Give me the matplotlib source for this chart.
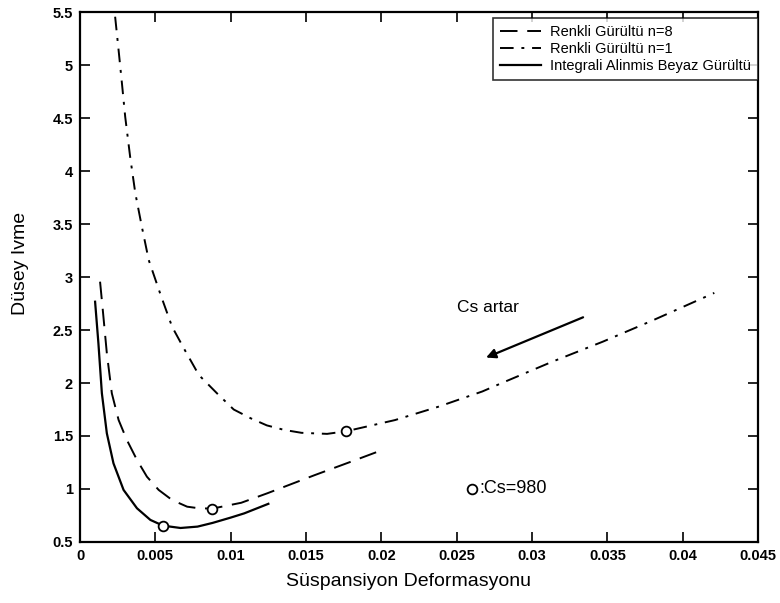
import numpy as np
import matplotlib
matplotlib.use("Agg")
from matplotlib import pyplot as plt

plt.rcParams['font.family'] = ['Liberation Sans', 'DejaVu Sans']

# Integrali alinmis beyaz gurultu (duz cizgi)
x_beyaz = [0.00100, 0.00122, 0.00145, 0.00178, 0.00222, 0.00289, 0.00378, 0.00467,
           0.00551, 0.00667, 0.00780, 0.00880, 0.01000, 0.01090, 0.01250]
y_beyaz = [2.767, 2.375, 1.903, 1.525, 1.242, 0.991, 0.818, 0.708,
           0.654, 0.632, 0.645, 0.680, 0.730, 0.770, 0.860]

# Renkli gurultu n=8 (kesikli)
x_n8 = [0.00133, 0.00151, 0.00178, 0.00211, 0.00256, 0.00311, 0.00378, 0.00444,
        0.00522, 0.00611, 0.00711, 0.00789, 0.00878, 0.01070, 0.01244, 0.01556,
        0.01822, 0.02010]
y_n8 = [2.956, 2.690, 2.280, 1.903, 1.651, 1.462, 1.274, 1.116,
        0.991, 0.896, 0.833, 0.818, 0.815, 0.870, 0.960, 1.130,
        1.270, 1.370]

# Renkli gurultu n=1 (kesik-noktali)
x_n1 = [0.00233, 0.00256, 0.00278, 0.00300, 0.00333, 0.00367, 0.00411, 0.00456,
        0.00533, 0.00611, 0.00689, 0.00789, 0.00911, 0.01020, 0.01133, 0.01240,
        0.01356, 0.01470, 0.01640, 0.01767, 0.02090, 0.02378, 0.02670, 0.02800,
        0.03133, 0.03470, 0.03800, 0.04210]
y_n1 = [5.456, 5.140, 4.830, 4.510, 4.130, 3.790, 3.470, 3.160,
        2.840, 2.531, 2.327, 2.075, 1.900, 1.750, 1.667, 1.600,
        1.557, 1.530, 1.520, 1.545, 1.650, 1.776, 1.920, 2.000,
        2.200, 2.390, 2.590, 2.850]

# Cs=980 noktalari
x_cs = [0.00551, 0.00878, 0.01767]
y_cs = [0.654, 0.815, 1.545]

fig = plt.figure(figsize=(7.8, 6.03), dpi=100)
ax = fig.add_axes([0.1026, 0.1012, 0.8692, 0.8788])

ax.plot(x_n8, y_n8, color='black', linestyle=(0, (9, 5)), linewidth=1.4, label='Renkli Gürültü n=8')
ax.plot(x_n1, y_n1, color='black', linestyle=(0, (7, 4, 1.5, 4)), linewidth=1.4, label='Renkli Gürültü n=1')
ax.plot(x_beyaz, y_beyaz, color='black', linestyle='-', linewidth=1.6, label='Integrali Alinmis Beyaz Gürültü')
ax.plot(x_cs, y_cs, linestyle='none', marker='o', markersize=7, markerfacecolor='white',
        markeredgecolor='black', markeredgewidth=1.3)

ax.annotate('', xy=(0.02678, 2.23), xytext=(0.03356, 2.63),
            arrowprops=dict(arrowstyle='-|>', color='black', lw=1.6, mutation_scale=14))
ax.text(0.0250, 2.71, 'Cs artar', fontsize=12.5, va='center', ha='left')
ax.plot([0.0260], [1.0], linestyle='none', marker='o', markersize=7, markerfacecolor='white',
        markeredgecolor='black', markeredgewidth=1.3)
ax.text(0.02650, 1.0, ':Cs=980', fontsize=13, va='center', ha='left')

ax.set_xlim(0, 0.045)
ax.set_ylim(0.5, 5.5)
ax.set_xticks(np.arange(0, 0.0451, 0.005))
ax.set_xticklabels(['0', '0.005', '0.01', '0.015', '0.02', '0.025', '0.03', '0.035', '0.04', '0.045'])
ax.set_yticks(np.arange(0.5, 5.51, 0.5))
ax.set_yticklabels(['0.5', '1', '1.5', '2', '2.5', '3', '3.5', '4', '4.5', '5', '5.5'])
ax.tick_params(direction='in', length=7, width=1.2, labelsize=10.5, top=True, right=True, pad=5)
for lab in ax.get_xticklabels() + ax.get_yticklabels():
    lab.set_fontweight('bold')
for sp in ax.spines.values():
    sp.set_linewidth(1.6)

ax.set_xlabel('Süspansiyon Deformasyonu', fontsize=14)
ax.set_ylabel('Düsey Ivme', fontsize=14)
ax.xaxis.set_label_coords(0.484, -0.058)
ax.yaxis.set_label_coords(-0.075, 0.526)

leg = ax.legend(loc='upper right', bbox_to_anchor=(1.0, 0.989), fontsize=10.5, frameon=True,
                fancybox=False, edgecolor='black', handlelength=2.8, borderpad=0.5,
                labelspacing=0.2, borderaxespad=0.0, handletextpad=0.6)
leg.get_frame().set_linewidth(1.2)

fig.savefig('out.png', dpi=100)
